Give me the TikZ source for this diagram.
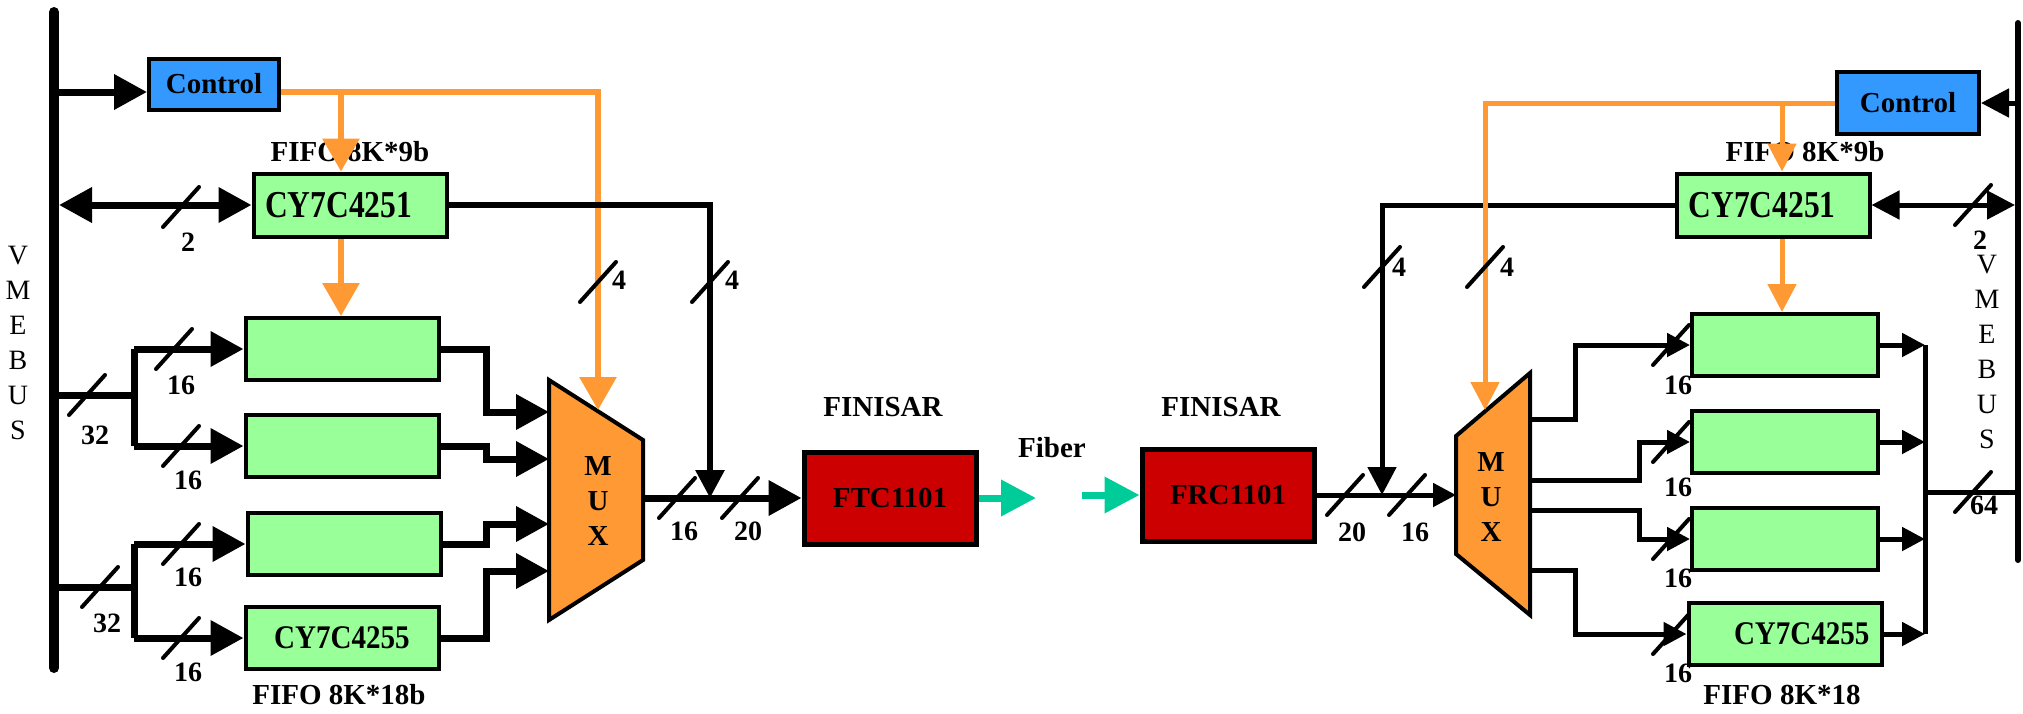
\documentclass[tikz,border=0pt]{standalone}
\usepackage{fontspec}
\setmainfont{Liberation Serif}
\newfontfamily\chipfont[FakeStretch=0.83]{Liberation Serif}
\newfontfamily\chipnarrow[FakeStretch=0.88]{Liberation Serif}
\usetikzlibrary{arrows.meta,positioning,calc}
\definecolor{fifogreen}{HTML}{99FF99}
\definecolor{ctrlblue}{HTML}{3399FF}
\definecolor{muxorange}{HTML}{FF9933}
\definecolor{finisred}{HTML}{CC0000}
\definecolor{fiberteal}{HTML}{00CC99}

\begin{document}
\begin{tikzpicture}[x=0.5pt,y=-0.5pt,
  every node/.style={inner sep=0pt},
  lbl/.style={font=\fontsize{14.5}{17}\selectfont\bfseries},
  num/.style={font=\fontsize{14}{16}\selectfont\bfseries},
  vme/.style={font=\fontsize{14}{17.5}\selectfont,align=center},
  muxtext/.style={font=\fontsize{14.5}{17.5}\selectfont\bfseries,align=center},
  fifobox/.style={draw,line width=2pt,fill=fifogreen,minimum width=96.5pt,minimum height=31pt,font=\chipnarrow\fontsize{16.5}{18}\selectfont\bfseries},
  chiptext/.style={font=\chipfont\fontsize{19}{20}\selectfont\bfseries},
  ctrlbox/.style={draw,line width=2pt,fill=ctrlblue,minimum height=25.5pt,font=\fontsize{14.5}{17}\selectfont\bfseries},
  finbox/.style={draw,line width=2.5pt,fill=finisred,minimum width=86pt,minimum height=46pt,font=\fontsize{14.5}{17}\selectfont\bfseries},
  muxshape/.style={draw,line width=2pt,fill=muxorange},
  wire/.style={line width=3.5pt},
  thinwire/.style={line width=2.5pt},
  ctlwire/.style={draw=muxorange,line width=3pt},
  thinctl/.style={draw=muxorange,line width=2.5pt},
  fiberline/.style={draw=fiberteal,line width=3.5pt,-{Triangle[length=17.5pt,width=17.5pt]}},
  arrbig/.style={-{Triangle[length=16.5pt,width=17pt]}},
  arrorange/.style={-{Triangle[length=16.5pt,width=18pt]}},
  arrmid/.style={-{Triangle[length=14pt,width=14pt]}},
  arrsmall/.style={-{Triangle[length=11.5pt,width=11.5pt]}},
  dblbig/.style={{Triangle[length=16.5pt,width=17pt]}-{Triangle[length=16.5pt,width=17pt]}},
  dblmid/.style={{Triangle[length=14pt,width=14pt]}-{Triangle[length=14pt,width=14pt]}},
  busmark/.pic={\draw[line width=2pt,line cap=round] (-9pt,-10pt) -- (9pt,10pt);}
]
\useasboundingbox (0,0) rectangle (2023,713);

% ---- sending side ----
\draw[line width=5pt,line cap=round] (54,12) coordinate (busLtop) -- (54,668) coordinate (busLbot);
\node[vme] (vmeL) at (18,343) {V\\M\\E\\B\\U\\S};

\node[ctrlbox,minimum width=65pt] (ctrlL) at (214,84) {Control};
\node[fifobox,chiptext,minimum height=31.5pt,text width=85pt,align=left,inner xsep=2pt] (fifoL) at (350,205) {CY7C4251};
\node[lbl] (fifoLtop) at (350,152) {FIFO 8K*9b};

\node[fifobox] (fL1) at (342,349) {};
\node[fifobox] (fL2) at (342,446) {};
\node[fifobox] (fL3) at (344,544) {};
\node[fifobox] (fL4) at (342,638) {CY7C4255};
\node[lbl] (fifoLbot) at (339,695) {FIFO 8K*18b};

\coordinate (mL1) at (549,380); \coordinate (mL2) at (643,440);
\coordinate (mL3) at (643,560); \coordinate (mL4) at (549,620);
\filldraw[muxshape] (mL1) -- (mL2) -- (mL3) -- (mL4) -- cycle;
\node[muxtext] (muxL) at (598,501) {M\\U\\X};

\node[finbox] (ftc) at (890,498) {FTC1101};
\node[lbl] (finL) at (883,407) {FINISAR};

% bus to control / fifo
\coordinate (tapC) at (54,92);
\draw[wire,arrbig] (tapC) -- (tapC -| ctrlL.west);
\coordinate (tapF) at (59,205);
\draw[wire,dblbig] (tapF) -- (fifoL.west);
\pic at (181,207) {busmark}; \node[num] (n2L) at (188,242) {2};

% control lines
\coordinate (oL) at (598,92); \coordinate (oLtip) at (598,410);
\draw[ctlwire,arrorange] (ctrlL.east |- tapC) -- (oL) -- (oLtip);
\coordinate (oB) at (341,92);
\draw[ctlwire,arrorange] (oB) -- (fifoL.north -| oB);
\draw[ctlwire,arrorange] (fifoL.south -| oB) -- (fL1.north -| oB);
\pic at (598,282) {busmark}; \node[num] (n4a) at (619,280) {4};

% fifo flags down to link
\coordinate (kL) at (710,205);
\draw[line width=3pt,arrmid] (fifoL.east) -- (kL) -- (kL |- ftc.west);
\pic at (710,282) {busmark}; \node[num] (n4b) at (732,280) {4};

% bus to data fifos
\coordinate (jL1) at (134,395); \coordinate (jL2) at (134,587);
\draw[wire] (busLtop |- jL1) -- (jL1);
\draw[wire] (busLtop |- jL2) -- (jL2);
\pic at (87,395) {busmark}; \node[num] (n32a) at (95,435) {32};
\pic at (100,587) {busmark}; \node[num] (n32b) at (107,623) {32};
\draw[wire] (jL1 |- fL1.west) -- (jL1 |- fL2.west);
\draw[wire] (jL2 |- fL3.west) -- (jL2 |- fL4.west);
\draw[wire,arrbig] (jL1 |- fL1.west) -- (fL1.west);
\draw[wire,arrbig] (jL1 |- fL2.west) -- (fL2.west);
\draw[wire,arrbig] (jL2 |- fL3.west) -- (fL3.west);
\draw[wire,arrbig] (jL2 |- fL4.west) -- (fL4.west);
\pic at (174,349) {busmark}; \node[num] (n16a) at (181,385) {16};
\pic at (181,446) {busmark}; \node[num] (n16b) at (188,480) {16};
\pic at (181,544) {busmark}; \node[num] (n16c) at (188,577) {16};
\pic at (181,638) {busmark}; \node[num] (n16d) at (188,672) {16};

% fifos into mux
\coordinate (cL) at (486,0);
\coordinate (iL1) at (549,412); \coordinate (iL2) at (549,459);
\coordinate (iL3) at (549,524); \coordinate (iL4) at (549,571);
\draw[wire,arrbig] (fL1.east) -- (fL1.east -| cL) -- (cL |- iL1) -- (iL1);
\draw[wire,arrbig] (fL2.east) -- (fL2.east -| cL) -- (cL |- iL2) -- (iL2);
\draw[wire,arrbig] (fL3.east) -- (fL3.east -| cL) -- (cL |- iL3) -- (iL3);
\draw[wire,arrbig] (fL4.east) -- (fL4.east -| cL) -- (cL |- iL4) -- (iL4);

% mux to transmitter
\draw[wire,arrbig] (ftc.west -| mL2) -- (ftc.west);
\pic at (677,498) {busmark}; \node[num] (n16e) at (684,531) {16};
\pic at (740,498) {busmark}; \node[num] (n20a) at (748,531) {20};

% ---- fiber ----
\node[finbox] (frc) at (1228,495) {FRC1101};
\node[lbl] (finR) at (1221,407) {FINISAR};
\node[lbl] (lblFiber) at (1052,448) {Fiber};
\coordinate (fibL) at (1036,498); \coordinate (fibR) at (1082,495);
\draw[fiberline] (ftc.east) -- (fibL);
\draw[fiberline] (fibR) -- (frc.west);

% ---- receiving side ----
\draw[line width=3pt,line cap=round] (2018,23) coordinate (busRtop) -- (2018,560) coordinate (busRbot);
\node[vme] (vmeR) at (1987,352) {V\\M\\E\\B\\U\\S};

\node[ctrlbox,minimum width=71pt,minimum height=31pt] (ctrlR) at (1908,103) {Control};
\node[fifobox,chiptext,minimum height=31.5pt,text width=84.5pt,align=left,inner xsep=2pt] (fifoR) at (1773,205) {CY7C4251};
\node[lbl] (fifoRtop) at (1805,152) {FIFO 8K*9b};

\node[fifobox,minimum width=93pt] (fR1) at (1785,345) {};
\node[fifobox,minimum width=93pt] (fR2) at (1785,442) {};
\node[fifobox,minimum width=93pt] (fR3) at (1785,539) {};
\node[fifobox,text width=84.5pt,align=right,inner xsep=4.25pt] (fR4) at (1785,634) {CY7C4255};
\node[lbl] (fifoRbot) at (1782,695) {FIFO 8K*18};

\coordinate (mR1) at (1456,436); \coordinate (mR2) at (1530,373);
\coordinate (mR3) at (1530,615); \coordinate (mR4) at (1456,554);
\filldraw[muxshape] (mR1) -- (mR2) -- (mR3) -- (mR4) -- cycle;
\node[muxtext] (muxR) at (1491,497) {M\\U\\X};

% receiver into mux
\draw[thinwire,arrsmall] (frc.east) -- (frc.east -| mR1);
\pic at (1345,495) {busmark}; \node[num] (n20b) at (1352,532) {20};
\pic at (1407,495) {busmark}; \node[num] (n16f) at (1415,532) {16};

% flags line
\coordinate (kR) at (1382,205);
\draw[thinwire,arrmid] (fifoR.west) -- (kR) -- (kR |- frc.east);
\pic at (1382,267) {busmark}; \node[num] (n4c) at (1399,267) {4};

% control lines
\coordinate (oR) at (1485,103); \coordinate (oRtip) at (1485,410);
\draw[thinctl,arrmid] (ctrlR.west) -- (oR) -- (oRtip);
\coordinate (oRB) at (1782,103);
\draw[thinctl,arrmid] (oRB) -- (fifoR.north -| oRB);
\draw[thinctl,arrmid] (fifoR.south -| oRB) -- (fR1.north -| oRB);
\pic at (1485,267) {busmark}; \node[num] (n4d) at (1507,267) {4};

% bus to control / fifo
\coordinate (tapCR) at (2015,103);
\draw[thinwire,arrmid] (tapCR) -- (ctrlR.east);
\coordinate (tapFR) at (2015,205);
\draw[thinwire,dblmid] (fifoR.east) -- (tapFR);
\pic at (1973,205) {busmark}; \node[num] (n2R) at (1980,240) {2};

% mux to data fifos
\coordinate (oR1) at (1530,419); \coordinate (oR2) at (1530,480);
\coordinate (oR3) at (1530,510); \coordinate (oR4) at (1530,570);
\coordinate (cR1) at (1575,0); \coordinate (cR2) at (1639,0);
\draw[thinwire,arrsmall] (oR1) -- (oR1 -| cR1) -- (cR1 |- fR1.west) -- (fR1.west);
\draw[thinwire,arrsmall] (oR2) -- (oR2 -| cR2) -- (cR2 |- fR2.west) -- (fR2.west);
\draw[thinwire,arrsmall] (oR3) -- (oR3 -| cR2) -- (cR2 |- fR3.west) -- (fR3.west);
\draw[thinwire,arrsmall] (oR4) -- (oR4 -| cR1) -- (cR1 |- fR4.west) -- (fR4.west);
\pic at (1671,345) {busmark}; \node[num] (n16g) at (1678,385) {16};
\pic at (1671,442) {busmark}; \node[num] (n16h) at (1678,487) {16};
\pic at (1671,539) {busmark}; \node[num] (n16i) at (1678,578) {16};
\pic at (1671,634) {busmark}; \node[num] (n16j) at (1678,673) {16};

% data fifos back to bus
\coordinate (cR3) at (1925,0);
\draw[thinwire,arrsmall] (fR1.east) -- (fR1.east -| cR3);
\draw[thinwire,arrsmall] (fR2.east) -- (fR2.east -| cR3);
\draw[thinwire,arrsmall] (fR3.east) -- (fR3.east -| cR3);
\draw[thinwire,arrsmall] (fR4.east) -- (fR4.east -| cR3);
\draw[thinwire] (cR3 |- fR1.east) -- (cR3 |- fR4.east);
\coordinate (jR) at (1925,492);
\draw[thinwire] (jR) -- (jR -| busRtop);
\pic at (1973,492) {busmark}; \node[num] (n64) at (1984,505) {64};
\end{tikzpicture}
\end{document}
